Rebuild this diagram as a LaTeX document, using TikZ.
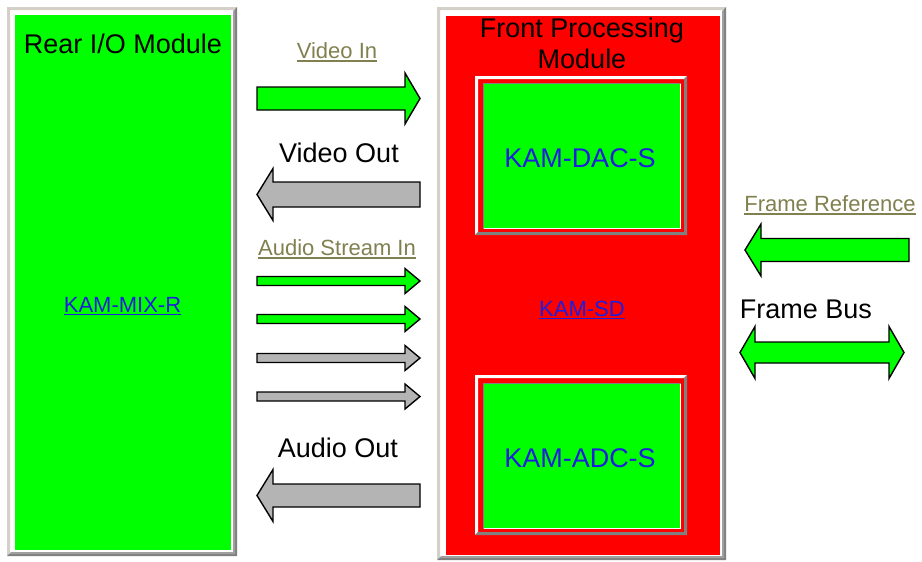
\documentclass[tikz,border=0pt]{standalone}
\usepackage{fontspec}
\setmainfont{Liberation Sans}
\definecolor{bgreen}{RGB}{0,255,0}
\definecolor{bred}{RGB}{255,0,0}
\definecolor{agray}{RGB}{180,180,180}
\definecolor{lnk}{RGB}{128,128,80}
\definecolor{kblue}{RGB}{30,30,220}
\definecolor{frlight}{RGB}{212,208,200}
\definecolor{frmid}{RGB}{160,160,160}
\definecolor{frdark}{RGB}{128,128,128}
\tikzset{
  arrowshape/.style={draw=black, line width=1.4pt, line join=miter},
  bigtext/.style={inner sep=0pt, anchor=base, font=\fontsize{27}{31}\selectfont},
  linktext/.style={inner sep=0pt, anchor=base, text=lnk, font=\fontsize{22}{26}\selectfont},
  bluetext/.style={inner sep=0pt, anchor=base, text=kblue, font=\fontsize{27}{31}\selectfont},
  bluelink/.style={inner sep=0pt, anchor=base, text=kblue, font=\fontsize{22}{26}\selectfont},
}
% right arrow: x1 x2 yc shafthalf headhalf fill
\newcommand\rarrowshape[6]{\filldraw[arrowshape, fill=#6]
  (#1,{#3-#4}) -- ({#2-15},{#3-#4}) -- ({#2-15},{#3-#5}) -- (#2,#3) -- ({#2-15},{#3+#5}) -- ({#2-15},{#3+#4}) -- (#1,{#3+#4}) -- cycle;}
% left arrow
\newcommand\larrowshape[6]{\filldraw[arrowshape, fill=#6]
  (#2,{#3-#4}) -- ({#1+16},{#3-#4}) -- ({#1+16},{#3-#5}) -- (#1,#3) -- ({#1+16},{#3+#5}) -- ({#1+16},{#3+#4}) -- (#2,{#3+#4}) -- cycle;}
% double arrow
\newcommand\darrowshape[6]{\filldraw[arrowshape, fill=#6]
  (#1,#3) -- ({#1+15},{#3-#5}) -- ({#1+15},{#3-#4}) -- ({#2-15},{#3-#4}) -- ({#2-15},{#3-#5}) -- (#2,#3) -- ({#2-15},{#3+#5}) -- ({#2-15},{#3+#4}) -- ({#1+15},{#3+#4}) -- ({#1+15},{#3+#5}) -- cycle;}
% outer module frame: x1 y1 x2 y2
\newcommand\outerframe[4]{%
  \fill[white] (#1,#2) rectangle (#3,#4);
  \fill[frlight] (#1,#2) -- (#3,#2) -- ({#3-3},{#2+3}) -- ({#1+3},{#2+3}) -- ({#1+3},{#4-3}) -- (#1,#4) -- cycle;
  \fill[frdark] (#3,#2) -- (#3,#4) -- (#1,#4) -- ({#1+2},{#4-2}) -- ({#3-2},{#4-2}) -- ({#3-2},{#2+2}) -- cycle;
  \fill[frmid] ({#3-2},{#2+2}) -- ({#3-2},{#4-2}) -- ({#1+2},{#4-2}) -- ({#1+4},{#4-4}) -- ({#3-4},{#4-4}) -- ({#3-4},{#2+4}) -- cycle;}
% inner board frame: x1 y1 x2 y2 (outer ridge)
\newcommand\innerframe[4]{%
  \fill[white] (#1,#2) -- (#3,#2) -- ({#3-3},{#2+3}) -- ({#1+3},{#2+3}) -- ({#1+3},{#4-3}) -- (#1,#4) -- cycle;
  \fill[frdark] (#3,#2) -- (#3,#4) -- (#1,#4) -- ({#1+3},{#4-3}) -- ({#3-3},{#4-3}) -- ({#3-3},{#2+3}) -- cycle;}
\begin{document}
\begin{tikzpicture}[x=1pt, y=-1pt]
\useasboundingbox (0,0) rectangle (922,562);
\fill[white] (0,0) rectangle (922,562);

% ---------- Rear I/O module ----------
\outerframe{7}{7}{237}{556}
\node (rear) [fill=bgreen, inner sep=0pt, minimum width=216pt, minimum height=535pt, anchor=north west] at (15,15) {};
\node (reartitle) [bigtext] at (123,53) {Rear I/O Module};
\node (mix) [bluelink] at (122.5,312) {KAM-MIX-R};
\draw[kblue, line width=1.3pt] ([yshift=-2.5pt]mix.base west) -- ([yshift=-2.5pt]mix.base east);

% ---------- Front processing module ----------
\outerframe{437}{7}{726}{560}
\node (front) [fill=bred, inner sep=0pt, minimum width=274pt, minimum height=539pt, anchor=north west] at (446,16) {};
\node (fronttitle1) [bigtext] at (582,37) {Front Processing};
\node (fronttitle2) [bigtext] at (582,68) {Module};
\node (sd) [bluelink] at (582,316) {KAM-SD};
\draw[kblue, line width=1.3pt] ([yshift=-2.5pt]sd.base west) -- ([yshift=-2.5pt]sd.base east);

% DAC board
\innerframe{475}{76}{687}{235}
\node (dac) [fill=bgreen, inner sep=0pt, minimum width=198pt, minimum height=146pt, anchor=north west] at (483,83) {};
\draw[frdark, line width=1pt] (483.5,228.5) -- (483.5,83.5) -- (680.5,83.5);
\draw[white, line width=1.5pt] (680.5,83.5) -- (680.5,228.5) -- (483.5,228.5);
\node (dactext) [bluetext] at (580,167) {KAM-DAC-S};

% ADC board
\innerframe{475}{375}{687}{535}
\node (adc) [fill=bgreen, inner sep=0pt, minimum width=198pt, minimum height=146pt, anchor=north west] at (483,383) {};
\draw[frdark, line width=1pt] (483.5,528.5) -- (483.5,383.5) -- (680.5,383.5);
\draw[white, line width=1.5pt] (680.5,383.5) -- (680.5,528.5) -- (483.5,528.5);
\node (adctext) [bluetext] at (580,467) {KAM-ADC-S};

% ---------- signal arrows ----------
\node (vin) [linktext] at (337,58) {Video In};
\draw[lnk, line width=1.3pt] ([yshift=-3pt]vin.base west) -- ([yshift=-3pt]vin.base east);
\rarrowshape{257}{420}{98.5}{11.5}{25.5}{bgreen}

\node (vout) [bigtext] at (339,162) {Video Out};
\larrowshape{257}{420}{194.5}{12.5}{26}{agray}

\node (ain) [linktext] at (337,255) {Audio Stream In};
\draw[lnk, line width=1.3pt] ([yshift=-3pt]ain.base west) -- ([yshift=-3pt]ain.base east);
\rarrowshape{257}{420}{281}{4.5}{12.5}{bgreen}
\rarrowshape{257}{420}{319}{4.5}{12.5}{bgreen}
\rarrowshape{257}{420}{358}{4.5}{12.5}{agray}
\rarrowshape{257}{420}{396.5}{4.5}{12.5}{agray}

\node (aout) [bigtext] at (338,457) {Audio Out};
\larrowshape{257}{420}{495.5}{11.5}{26}{agray}

\node (fref) [linktext] at (830,211) {Frame Reference};
\draw[lnk, line width=1.3pt] ([yshift=-3pt]fref.base west) -- ([yshift=-3pt]fref.base east);
\larrowshape{745}{909}{250}{11.5}{26}{bgreen}

\node (fbus) [bigtext] at (806,318) {Frame Bus};
\darrowshape{740}{904}{352.5}{10.5}{26}{bgreen}
\end{tikzpicture}
\end{document}
